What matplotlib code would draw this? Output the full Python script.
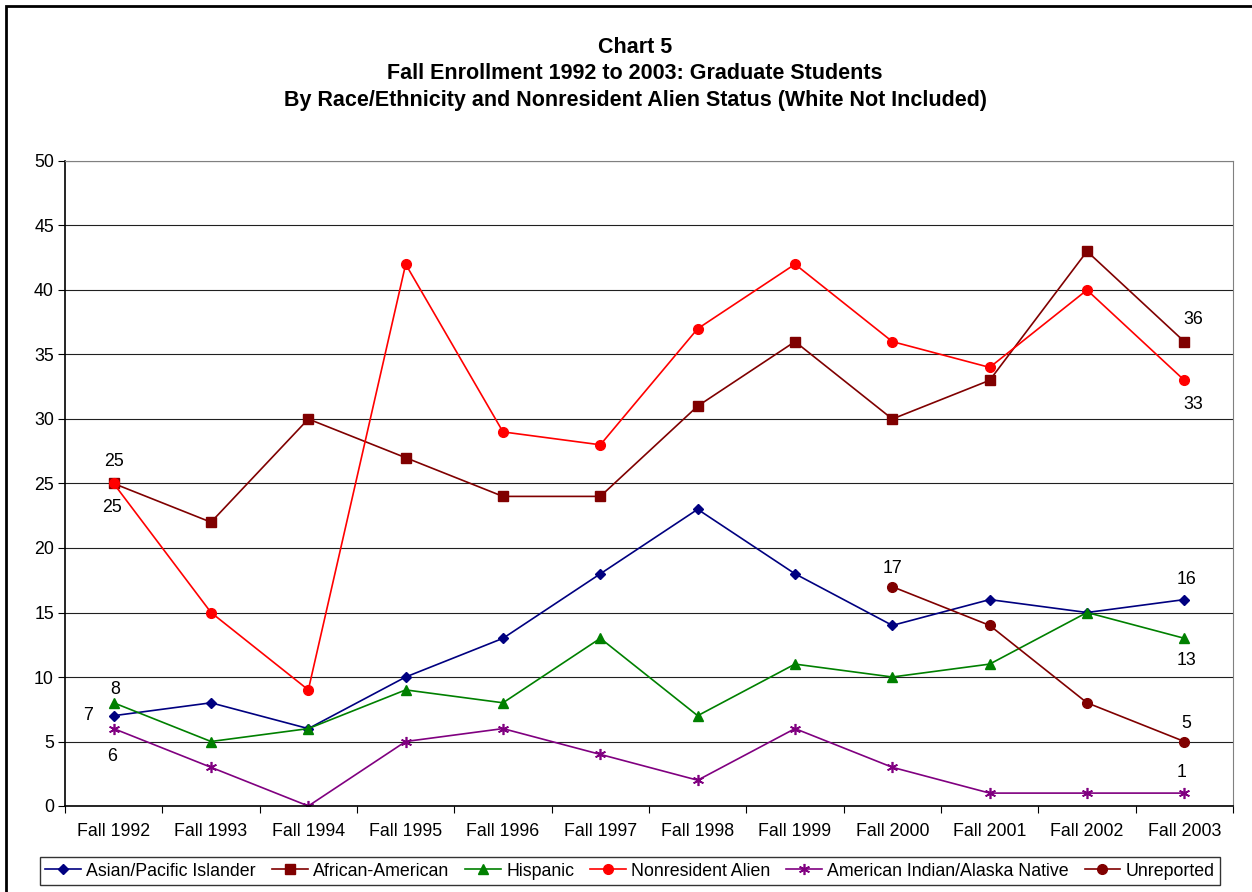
import matplotlib.pyplot as plt
import numpy as np
from matplotlib.patches import Rectangle

plt.rcParams['font.family'] = ['Liberation Sans', 'DejaVu Sans']

years = ['Fall 1992', 'Fall 1993', 'Fall 1994', 'Fall 1995', 'Fall 1996', 'Fall 1997',
         'Fall 1998', 'Fall 1999', 'Fall 2000', 'Fall 2001', 'Fall 2002', 'Fall 2003']

asian = [7, 8, 6, 10, 13, 18, 23, 18, 14, 16, 15, 16]
african = [25, 22, 30, 27, 24, 24, 31, 36, 30, 33, 43, 36]
hispanic = [8, 5, 6, 9, 8, 13, 7, 11, 10, 11, 15, 13]
nonres = [25, 15, 9, 42, 29, 28, 37, 42, 36, 34, 40, 33]
amind = [6, 3, 0, 5, 6, 4, 2, 6, 3, 1, 1, 1]
unrep = [np.nan] * 8 + [17, 14, 8, 5]

fig = plt.figure(figsize=(12.52, 8.92), dpi=100)
fig.patches.append(Rectangle((6 / 1252, -0.1), 1.2, (892 - 6) / 892 + 0.1,
                             transform=fig.transFigure, fill=False,
                             edgecolor='black', linewidth=2))
ax = fig.add_axes([65 / 1252, 86 / 892, 1168 / 1252, 645 / 892])

x = np.arange(len(years)) + 0.5
ax.plot(x, asian, color='#000080', marker='D', markersize=5, lw=1.2, label='Asian/Pacific Islander')
ax.plot(x, african, color='#800000', marker='s', markersize=7, lw=1.2, label='African-American')
ax.plot(x, hispanic, color='#008000', marker='^', markersize=7, lw=1.2, label='Hispanic')
ax.plot(x, nonres, color='#FF0000', marker='o', markersize=7, lw=1.2, label='Nonresident Alien')
ax.plot(x, amind, color='#800080', marker=(6, 2, 0), markersize=8, lw=1.2, mew=1.2,
        label='American Indian/Alaska Native')
ax.plot(x, unrep, color='#800000', marker='o', markersize=7, lw=1.2, label='Unreported')

ax.set_xlim(0, 12)
ax.set_ylim(0, 50)
ax.set_yticks(range(0, 51, 5))
ax.set_xticks(np.arange(0, 13), minor=False)
ax.set_xticklabels([''] * 13)
ax.set_xticks(x, minor=True)
ax.set_xticklabels(years, minor=True)
ax.tick_params(axis='x', which='minor', length=0, pad=12, labelsize=12.8)
ax.tick_params(axis='x', which='major', length=5, direction='out')
ax.tick_params(axis='y', labelsize=12.8, length=5, pad=3)
ax.yaxis.grid(True, color='#202020', linewidth=0.8)
ax.set_axisbelow(True)
for s in ['top', 'right']:
    ax.spines[s].set_color('#808080')
ax.spines['left'].set_linewidth(1.2)
ax.spines['bottom'].set_linewidth(1.2)

labels = [
    (0, 0, 22, nonres), (0, -2, -24, african),
    (0, 2, 13, hispanic), (0, -26, 0, asian), (0, -2, -28, amind),
    (8, 0, 18, unrep),
    (11, 9, 22, african), (11, 9, -24, nonres),
    (11, 2, 20, asian), (11, 2, -22, hispanic),
    (11, 2, 18, unrep), (11, -3, 21, amind),
]
for i, dx, dy, s in labels:
    ax.annotate(str(s[i]), (x[i], s[i]), xytext=(dx, dy), textcoords='offset pixels',
                ha='center', va='center', fontsize=12.8)

fig.suptitle('Chart 5\nFall Enrollment 1992 to 2003: Graduate Students\n'
             'By Race/Ethnicity and Nonresident Alien Status (White Not Included)',
             x=635 / 1252, y=1 - 37 / 892, fontsize=15.5, fontweight='bold', linespacing=1.33)

fig.legend(loc='center', bbox_to_anchor=(630 / 1252, 1 - 871 / 892), ncol=6,
           frameon=True, fancybox=False, edgecolor='black', fontsize=12.8,
           handlelength=2.0, handletextpad=0.3, columnspacing=0.9, borderpad=0.3)

plt.savefig('out.png', dpi=100)
